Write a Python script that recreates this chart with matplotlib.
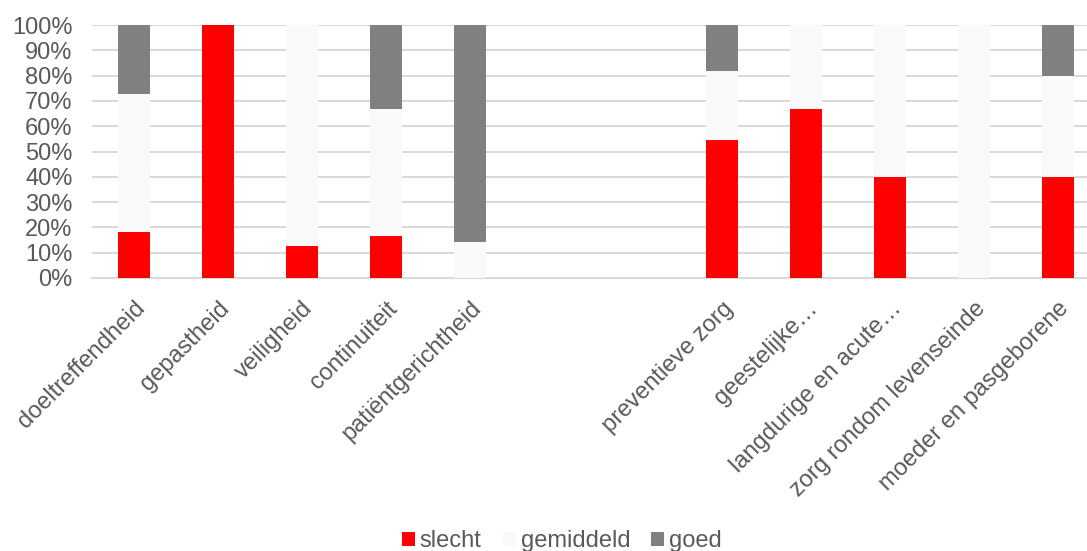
import numpy as np
import matplotlib
matplotlib.use("Agg")
import matplotlib.pyplot as plt

plt.rcParams['font.family'] = ['Liberation Sans', 'DejaVu Sans']

# Categories (two blank slots separate the two groups)
categories = [
    "doeltreffendheid", "gepastheid", "veiligheid", "continuiteit",
    "patiëntgerichtheid", "", "",
    "preventieve zorg", "geestelijke…", "langdurige en acute…",
    "zorg rondom levenseinde", "moeder en pasgeborene",
]

# Shares per category (fractions of 1)
slecht    = [0.182, 1.000, 0.125, 0.167, 0.000, 0.0, 0.0, 0.545, 0.667, 0.400, 0.000, 0.400]
gemiddeld = [0.545, 0.000, 0.875, 0.500, 0.143, 0.0, 0.0, 0.273, 0.333, 0.600, 1.000, 0.400]
goed      = [0.273, 0.000, 0.000, 0.333, 0.857, 0.0, 0.0, 0.182, 0.000, 0.000, 0.000, 0.200]

series_names = ["slecht", "gemiddeld", "goed"]
series_colors = ["#FF0000", "#F9F9F9", "#808080"]

text_color = "#595959"
grid_color = "#D9D9D9"

fig = plt.figure(figsize=(10.87, 5.51), dpi=100)
ax = fig.add_axes([92 / 1087, 273 / 551, 1008 / 1087, 253 / 551])

x = np.arange(len(categories))
width = 0.39
bottom = np.zeros(len(categories))
for name, vals, col in zip(series_names, [slecht, gemiddeld, goed], series_colors):
    vals = np.asarray(vals)
    ax.bar(x, vals, width, bottom=bottom, color=col, label=name,
           linewidth=0, zorder=3)
    bottom = bottom + vals

ax.set_xlim(-0.5, len(categories) - 0.5)
ax.set_ylim(0, 1)
ax.set_yticks(np.linspace(0, 1, 11))
ax.set_yticklabels([f"{int(round(v * 100))}%" for v in np.linspace(0, 1, 11)])
ax.yaxis.grid(True, color=grid_color, linewidth=1.5, zorder=0)
ax.set_axisbelow(True)

for side in ["left", "right", "top"]:
    ax.spines[side].set_visible(False)
ax.spines["bottom"].set_color(grid_color)
ax.spines["bottom"].set_linewidth(1.5)

ax.tick_params(axis="both", length=0, labelsize=17, labelcolor=text_color)
ax.tick_params(axis="y", pad=14)
ax.tick_params(axis="x", pad=14)
ax.set_xticks(x)
ax.set_xticklabels(categories, rotation=45, ha="right", va="top",
                   rotation_mode="anchor")

leg = fig.legend(loc="center", bbox_to_anchor=(562 / 1087, 1 - 541 / 551),
                 ncol=3, frameon=False, fontsize=17,
                 handlelength=0.55, handleheight=0.55, handletextpad=0.2,
                 columnspacing=0.9, borderpad=0, borderaxespad=0)
for t in leg.get_texts():
    t.set_color(text_color)

fig.savefig("out.png", dpi=100)
